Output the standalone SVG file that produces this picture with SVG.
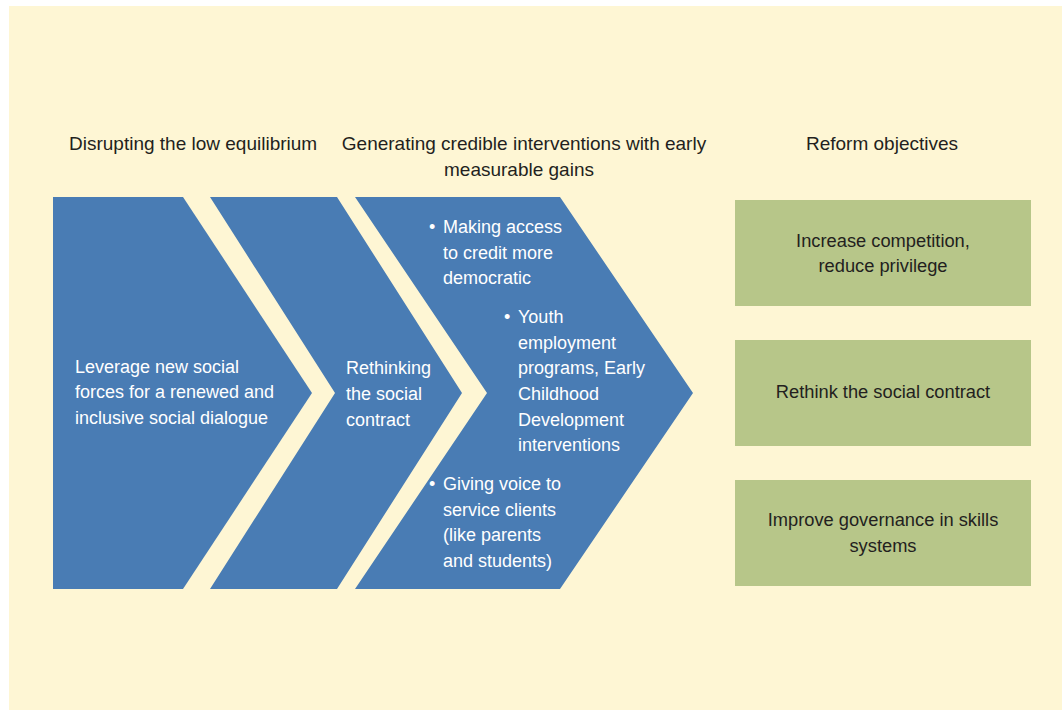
<svg xmlns="http://www.w3.org/2000/svg" width="1062" height="710" viewBox="0 0 1062 710">
<style>
.hd{font-family:"Liberation Sans",Arial,sans-serif;font-size:19px;fill:#231f20}
.wt{font-family:"Liberation Sans",Arial,sans-serif;font-size:18px;fill:#ffffff}
.gt{font-family:"Liberation Sans",Arial,sans-serif;font-size:18.3px;fill:#231f20;text-anchor:middle}
.chev{fill:#497cb4}
.obj{fill:#b7c689}
</style>
<rect x="0" y="0" width="1062" height="710" fill="#ffffff"/>
<rect x="9" y="6" width="1053" height="704" fill="#fef6d4"/>
<g id="headers">
<text class="hd" x="69" y="150">Disrupting the low equilibrium</text>
<text class="hd" x="524" y="150" text-anchor="middle">Generating credible interventions with early</text>
<text class="hd" x="519" y="176" text-anchor="middle">measurable gains</text>
<text class="hd" x="882" y="150" text-anchor="middle">Reform objectives</text>
</g>
<g id="chevron1">
<path class="chev" d="M53,197 L183,197 L312,393 L183,589 L53,589 Z"/>
<text class="wt" x="75" y="373">Leverage new social</text>
<text class="wt" x="75" y="398">forces for a renewed and</text>
<text class="wt" x="75" y="424">inclusive social dialogue</text>
</g>
<g id="chevron2">
<path class="chev" d="M210,197 L337,197 L462,393 L337,589 L210,589 L335,393 Z"/>
<text class="wt" x="346" y="374">Rethinking</text>
<text class="wt" x="346" y="400">the social</text>
<text class="wt" x="346" y="426">contract</text>
</g>
<g id="chevron3">
<path class="chev" d="M355,197 L560,197 L693,393 L560,589 L355,589 L487,393 Z"/>
<text class="wt" x="429" y="233">•</text>
<text class="wt" x="443" y="233">Making access</text>
<text class="wt" x="443" y="259">to credit more</text>
<text class="wt" x="443" y="284">democratic</text>
<text class="wt" x="504" y="323">•</text>
<text class="wt" x="518" y="323">Youth</text>
<text class="wt" x="518" y="349">employment</text>
<text class="wt" x="518" y="374">programs, Early</text>
<text class="wt" x="518" y="400">Childhood</text>
<text class="wt" x="518" y="426">Development</text>
<text class="wt" x="518" y="451">interventions</text>
<text class="wt" x="429" y="490">•</text>
<text class="wt" x="443" y="490">Giving voice to</text>
<text class="wt" x="443" y="516">service clients</text>
<text class="wt" x="443" y="541">(like parents</text>
<text class="wt" x="443" y="567">and students)</text>
</g>
<g id="objective1">
<rect class="obj" x="735" y="200" width="296" height="106"/>
<text class="gt" x="883" y="247">Increase competition,</text>
<text class="gt" x="883" y="272">reduce privilege</text>
</g>
<g id="objective2">
<rect class="obj" x="735" y="340" width="296" height="106"/>
<text class="gt" x="883" y="398">Rethink the social contract</text>
</g>
<g id="objective3">
<rect class="obj" x="735" y="480" width="296" height="106"/>
<text class="gt" x="883" y="526">Improve governance in skills</text>
<text class="gt" x="883" y="552">systems</text>
</g>
<g id="connectors"></g>
</svg>
